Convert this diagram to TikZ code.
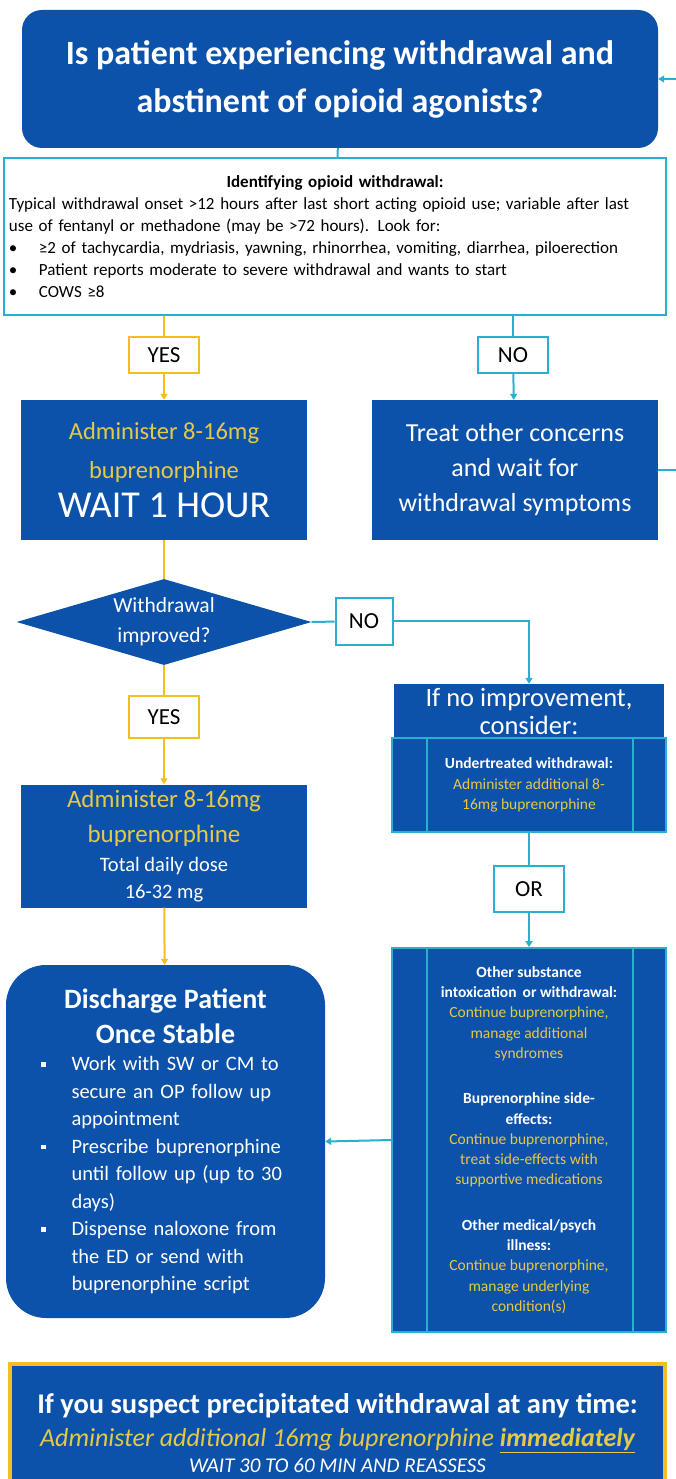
\documentclass[tikz,border=0pt]{standalone}
\usepackage{fontspec}
\setmainfont{Carlito}
\usepackage{xcolor}
\usetikzlibrary{shapes, arrows.meta, positioning, calc}

\definecolor{flowblue}{RGB}{13,82,170}
\definecolor{flowteal}{RGB}{40,176,206}
\definecolor{flowgold}{RGB}{243,190,30}
\definecolor{dosegold}{RGB}{228,200,72}

\newcommand{\bul}{\makebox[30pt][l]{\textbullet}}
\newcommand{\sqbul}{\hspace*{26pt}\makebox[30pt][l]{\raisebox{4pt}{\rule{4.5pt}{4.5pt}}}}
\newcommand{\cont}{\hspace*{56pt}}
\newcommand{\dose}[1]{\textcolor{dosegold}{#1}}

\tikzset{
	bluebox/.style={fill=flowblue, text=white, align=center, inner sep=0pt},
	answer/.style={draw, line width=2pt, fill=white, text=black, inner sep=0pt, minimum width=70pt, minimum height=36pt, font=\fontsize{23}{26}\selectfont},
	tealline/.style={draw=flowteal, line width=2pt},
	goldline/.style={draw=flowgold, line width=2pt},
	tealarrow/.style={tealline, -{Triangle[length=6pt, width=7pt]}},
	goldarrow/.style={goldline, -{Triangle[length=6pt, width=7pt]}},
	optionbox/.style={bluebox, draw=flowteal, line width=2pt, minimum width=274pt}
}

\begin{document}
\begin{tikzpicture}[x=1pt, y=-1pt]
		\useasboundingbox (0,0) rectangle (675,1479);

		\node[bluebox, rounded corners=20pt, minimum width=636pt, minimum height=138pt, font=\bfseries\fontsize{34}{48}\selectfont] (question) at (340,79) {Is patient experiencing withdrawal and\\abstinent of opioid agonists?};

		\node[draw=flowteal, line width=2pt, fill=white, text width=652pt, minimum height=157pt, inner xsep=5pt, inner ysep=2pt, align=left, font=\fontsize{17}{22}\selectfont] (identify) at (335,236.5) {{\centering\bfseries Identifying opioid withdrawal:\par}
			Typical withdrawal onset >12 hours after last short acting opioid use; variable after last\\
			use of fentanyl or methadone (may be >72 hours). Look for:\\
			\bul ≥2 of tachycardia, mydriasis, yawning, rhinorrhea, vomiting, diarrhea, piloerection\\
			\bul Patient reports moderate to severe withdrawal and wants to start\\
			\bul COWS ≥8};

		\node[answer, draw=flowgold] (yes1) at (164,355) {YES};
		\node[answer, draw=flowteal] (no1) at (513,355) {NO};

		\node[bluebox, minimum width=286pt, minimum height=140pt, font=\fontsize{24.5}{39}\selectfont] (admin1) at (164,470) {\dose{Administer 8-16mg}\\\dose{buprenorphine}\\{\fontsize{38}{39}\selectfont WAIT 1 HOUR}};
		\node[bluebox, minimum width=286pt, minimum height=140pt, font=\fontsize{26}{35}\selectfont] (treat) at (515,470) {Treat other concerns\\and wait for\\withdrawal symptoms};

		\node[bluebox, diamond, aspect=3.5, minimum width=295pt, minimum height=86pt, font=\fontsize{21.5}{30}\selectfont] (improved) at (164,622) {Withdrawal\\improved?};
		\node[answer, draw=flowteal, minimum width=57pt, minimum height=47pt] (no2) at (364,621) {NO};
		\node[answer, draw=flowgold, minimum height=42pt] (yes2) at (164,717) {YES};

		\node[bluebox, minimum width=270pt, minimum height=54pt, font=\fontsize{26.5}{30}\selectfont] (noimprove) at (529,711) {If no improvement,\\[-2pt]consider:};
		\node[optionbox, minimum height=94pt, font=\fontsize{15.5}{20.5}\selectfont] (under) at (529,785) {\textbf{Undertreated withdrawal:}\\\dose{Administer additional 8-}\\\dose{16mg buprenorphine}};
		\draw[tealline] ($(under.north west)+(36,0)$) -- ($(under.south west)+(36,0)$);
		\draw[tealline] ($(under.north east)+(-34,0)$) -- ($(under.south east)+(-34,0)$);

		\node[answer, draw=flowteal, minimum height=46pt] (orbox) at (529,889) {OR};

		\node[optionbox, minimum height=384pt, font=\fontsize{15.5}{20.3}\selectfont] (other) at (529,1140) {\textbf{Other substance}\\\textbf{intoxication\, or withdrawal:}\\\dose{Continue buprenorphine,}\\\dose{manage additional}\\\dose{syndromes}\\[25pt]
			\textbf{Buprenorphine side-}\\\textbf{effects:}\\\dose{Continue buprenorphine,}\\\dose{treat side-effects with}\\\dose{supportive medications}\\[25pt]
			\textbf{Other medical/psych}\\\textbf{illness:}\\\dose{Continue buprenorphine,}\\\dose{manage underlying}\\\dose{condition(s)}};
		\draw[tealline] ($(other.north west)+(36,0)$) -- ($(other.south west)+(36,0)$);
		\draw[tealline] ($(other.north east)+(-34,0)$) -- ($(other.south east)+(-34,0)$);

		\node[bluebox, minimum width=286pt, minimum height=123pt, font=\fontsize{25}{35}\selectfont] (admin2) at (164,846) {\dose{Administer 8-16mg}\\\dose{buprenorphine}\\[-6pt]{\fontsize{20.5}{25}\selectfont Total daily dose}\\[-8pt]{\fontsize{20.5}{25}\selectfont 16-32 mg}};

		\node[bluebox, rounded corners=40pt, minimum width=319pt, minimum height=353pt, text width=300pt, align=left, font=\fontsize{20.5}{27.5}\selectfont] (discharge) at (165.5,1141.5) {{\centering\bfseries\fontsize{28}{35}\selectfont Discharge Patient\\Once Stable\par}
			\sqbul Work with SW or CM to\\\cont secure an OP follow up\\\cont appointment\\
			\sqbul Prescribe buprenorphine\\\cont until follow up (up to 30\\\cont days)\\
			\sqbul Dispense naloxone from\\\cont the ED or send with\\\cont buprenorphine script};

		\node[bluebox, draw=flowgold, line width=4pt, minimum width=655pt, minimum height=138pt, anchor=north, font=\fontsize{26}{33}\selectfont] (precip) at (337.5,1362) {{\bfseries\fontsize{28.5}{33}\selectfont If you suspect precipitated withdrawal at any time:}\\\textit{\dose{Administer additional 16mg buprenorphine \underline{\textbf{immediately}}}}\\[-7pt]{\itshape\fontsize{21}{25}\selectfont WAIT 30 TO 60 MIN AND REASSESS}};

		\draw[tealline] (question) -- (identify);
		\draw[goldline] (yes1.north |- identify.south) -- (yes1);
		\draw[tealline] (no1.north |- identify.south) -- (no1);
		\draw[goldarrow] (yes1) -- (admin1);
		\draw[tealarrow] (no1) -- (treat);
		\draw[tealarrow] (treat.east) -- ++(30,0) |- (question.east);
		\draw[goldline] (admin1) -- (improved);
		\draw[tealline] (improved.east) -- (no2);
		\draw[tealarrow] (no2.east) -| (noimprove.north);
		\draw[goldline] (improved) -- (yes2);
		\draw[goldarrow] (yes2) -- (admin2);
		\draw[goldarrow] (admin2) -- (discharge);
		\draw[tealline] (under) -- (orbox);
		\draw[tealarrow] (orbox) -- (other);
		\draw[tealarrow] (other.west) -- (discharge.east);
	\end{tikzpicture}
\end{document}
